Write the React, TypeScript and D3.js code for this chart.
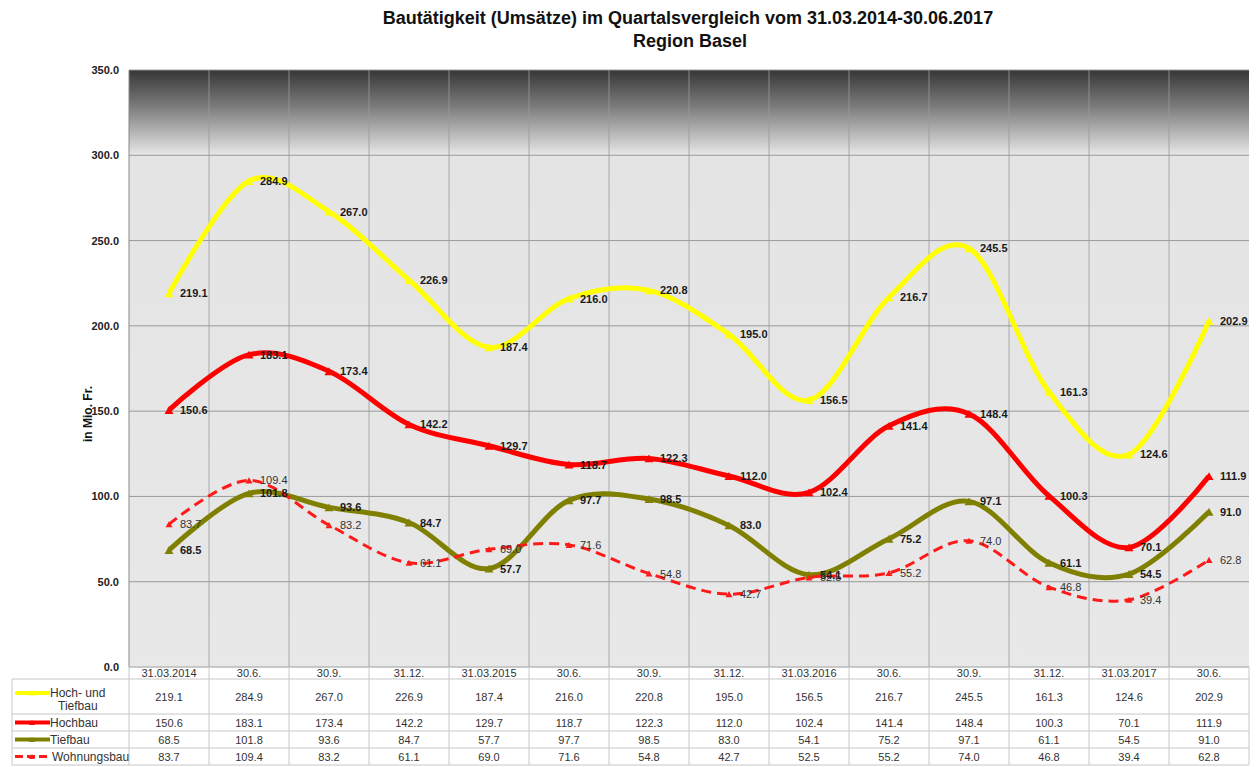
import React from "react";
import * as d3 from "d3";

const categories = ["31.03.2014","30.6.","30.9.","31.12.","31.03.2015","30.6.","30.9.","31.12.","31.03.2016","30.6.","30.9.","31.12.","31.03.2017","30.6."];
const hochTief = [219.1,284.9,267.0,226.9,187.4,216.0,220.8,195.0,156.5,216.7,245.5,161.3,124.6,202.9];
const hochbau = [150.6,183.1,173.4,142.2,129.7,118.7,122.3,112.0,102.4,141.4,148.4,100.3,70.1,111.9];
const tiefbau = [68.5,101.8,93.6,84.7,57.7,97.7,98.5,83.0,54.1,75.2,97.1,61.1,54.5,91.0];
const wohnungsbau = [83.7,109.4,83.2,61.1,69.0,71.6,54.8,42.7,52.5,55.2,74.0,46.8,39.4,62.8];
const yTicks = [0, 50, 100, 150, 200, 250, 300, 350];

const seriesNames = ["Hoch- und Tiefbau", "Hochbau", "Tiefbau", "Wohnungsbau"];

const FONT = "'Liberation Sans', Arial, sans-serif";

export default function App() {
  const W = 1260, H = 767;
  const left = 129, right = 1249, top = 70, bottom = 667;
  const x = d3.scaleBand<number>().domain(categories.map((_, i) => i)).range([left, right]);
  const y = d3.scaleLinear().domain([0, 350]).range([bottom, top]);
  const cx = (i: number) => (x(i) as number) + x.bandwidth() / 2;

  const series = [
    { name: seriesNames[0], values: hochTief, color: "#ffff00", width: 5, dash: null as string | null, bold: true, marker: 9 },
    { name: seriesNames[1], values: hochbau, color: "#ff0000", width: 5, dash: null, bold: true, marker: 9 },
    { name: seriesNames[2], values: tiefbau, color: "#808000", width: 5, dash: null, bold: true, marker: 9 },
    { name: seriesNames[3], values: wohnungsbau, color: "#ff1a1a", width: 3, dash: "10,6", bold: false, marker: 7 },
  ];

  const line = d3.line<number>().x((_, i) => cx(i)).y((d) => y(d)).curve(d3.curveCatmullRom.alpha(0));

  const tri = (px: number, py: number, s: number) => {
    const h = s * 0.87;
    return `M${px},${py - h / 2}L${px + s / 2},${py + h / 2}L${px - s / 2},${py + h / 2}Z`;
  };

  const rowTops = [667, 679, 714, 731, 748, 765];
  const boundaries = categories.map((_, i) => x(i) as number).concat([right]);

  return (
    <svg width={W} height={H} style={{ position: "absolute", left: 0, top: 0, background: "#fff" }} fontFamily={FONT}>
      <defs>
        <linearGradient id="bg" x1="0" y1="0" x2="0" y2="1">
          <stop offset="0" stopColor="#363636" />
          <stop offset="0.06" stopColor="#7a7a7a" />
          <stop offset="0.14" stopColor="#e4e4e4" />
          <stop offset="1" stopColor="#e8e8e8" />
        </linearGradient>
      </defs>
      <rect x={0} y={0} width={W} height={H} fill="#fff" />
      <text x={688} y={24} textAnchor="middle" fontSize={18} fontWeight="bold" fill="#111">
        Bautätigkeit (Umsätze) im Quartalsvergleich vom 31.03.2014-30.06.2017
      </text>
      <text x={690} y={47} textAnchor="middle" fontSize={18} fontWeight="bold" fill="#111">
        Region Basel
      </text>

      <rect x={left} y={top} width={right - left} height={bottom - top} fill="url(#bg)" />
      {yTicks.map((t) => (
        <line key={"h" + t} x1={left} x2={right} y1={y(t)} y2={y(t)} stroke="#9a9a9a" strokeWidth={1} />
      ))}
      {boundaries.slice(1, -1).map((bx, i) => (
        <line key={"v" + i} x1={bx} x2={bx} y1={top} y2={bottom} stroke="#9a9a9a" strokeWidth={1} opacity={0.8} />
      ))}
      <line x1={left} x2={left} y1={top} y2={bottom} stroke="#888" />

      {yTicks.map((t) => (
        <text key={"yt" + t} x={119} y={y(t) + 4} textAnchor="end" fontSize={11} fontWeight="bold" fill="#222">
          {t.toFixed(1)}
        </text>
      ))}
      <text transform={`translate(92,${414}) rotate(-90)`} textAnchor="middle" fontSize={12} fontWeight="bold" fill="#111">
        in Mio. Fr.
      </text>

      {series.map((s) => (
        <g key={s.name}>
          <path d={line(s.values) || ""} fill="none" stroke={s.color} strokeWidth={s.width}
            strokeDasharray={s.dash || undefined} strokeLinejoin="round" />
          {s.values.map((v, i) => (
            <path key={i} d={tri(cx(i), y(v), s.marker)} fill={s.color} />
          ))}
        </g>
      ))}
      {series.map((s) => (
        <g key={"l" + s.name}>
          {s.values.map((v, i) => (
            <text key={i} x={cx(i) + 11} y={y(v) + 4} fontSize={11} fontWeight={s.bold ? "bold" : "normal"}
              fill={s.bold ? "#1a1a1a" : "#333"}>
              {v.toFixed(1)}
            </text>
          ))}
        </g>
      ))}

      {rowTops.slice(1).map((ry, i) => (
        <line key={"r" + i} x1={12} x2={right} y1={ry} y2={ry} stroke="#c8c8c8" />
      ))}
      <line x1={left} x2={right} y1={667} y2={667} stroke="#c8c8c8" />
      <line x1={12} x2={12} y1={679} y2={765} stroke="#c8c8c8" />
      {boundaries.map((bx, i) => (
        <line key={"tv" + i} x1={bx} x2={bx} y1={667} y2={765} stroke="#c8c8c8" />
      ))}
      {categories.map((c, i) => (
        <text key={"c" + i} x={cx(i)} y={677} textAnchor="middle" fontSize={11} fill="#333">{c}</text>
      ))}
      {series.map((s, r) => (
        <g key={"row" + r}>
          {s.values.map((v, i) => (
            <text key={i} x={cx(i)} y={(rowTops[r + 1] + rowTops[r + 2]) / 2 + 4} textAnchor="middle" fontSize={11} fill="#333">
              {v.toFixed(1)}
            </text>
          ))}
        </g>
      ))}
      {series.map((s, r) => {
        const ky = r === 0 ? 693 : (rowTops[r + 1] + rowTops[r + 2]) / 2;
        return (
          <g key={"k" + r}>
            <line x1={15} x2={r === 3 ? 47 : 50} y1={ky} y2={ky} stroke={s.color} strokeWidth={r === 3 ? 3 : 4}
              strokeDasharray={s.dash ? "8,4" : undefined} />
            <path d={tri(32, ky, 6)} fill={s.color} />
          </g>
        );
      })}
      <text x={50} y={697} fontSize={12} fill="#333">Hoch- und</text>
      <text x={58} y={710} fontSize={12} fill="#333">Tiefbau</text>
      <text x={50} y={727} fontSize={12} fill="#333">Hochbau</text>
      <text x={50} y={744} fontSize={12} fill="#333">Tiefbau</text>
      <text x={52} y={761} fontSize={12} fill="#333">Wohnungsbau</text>
    </svg>
  );
}
